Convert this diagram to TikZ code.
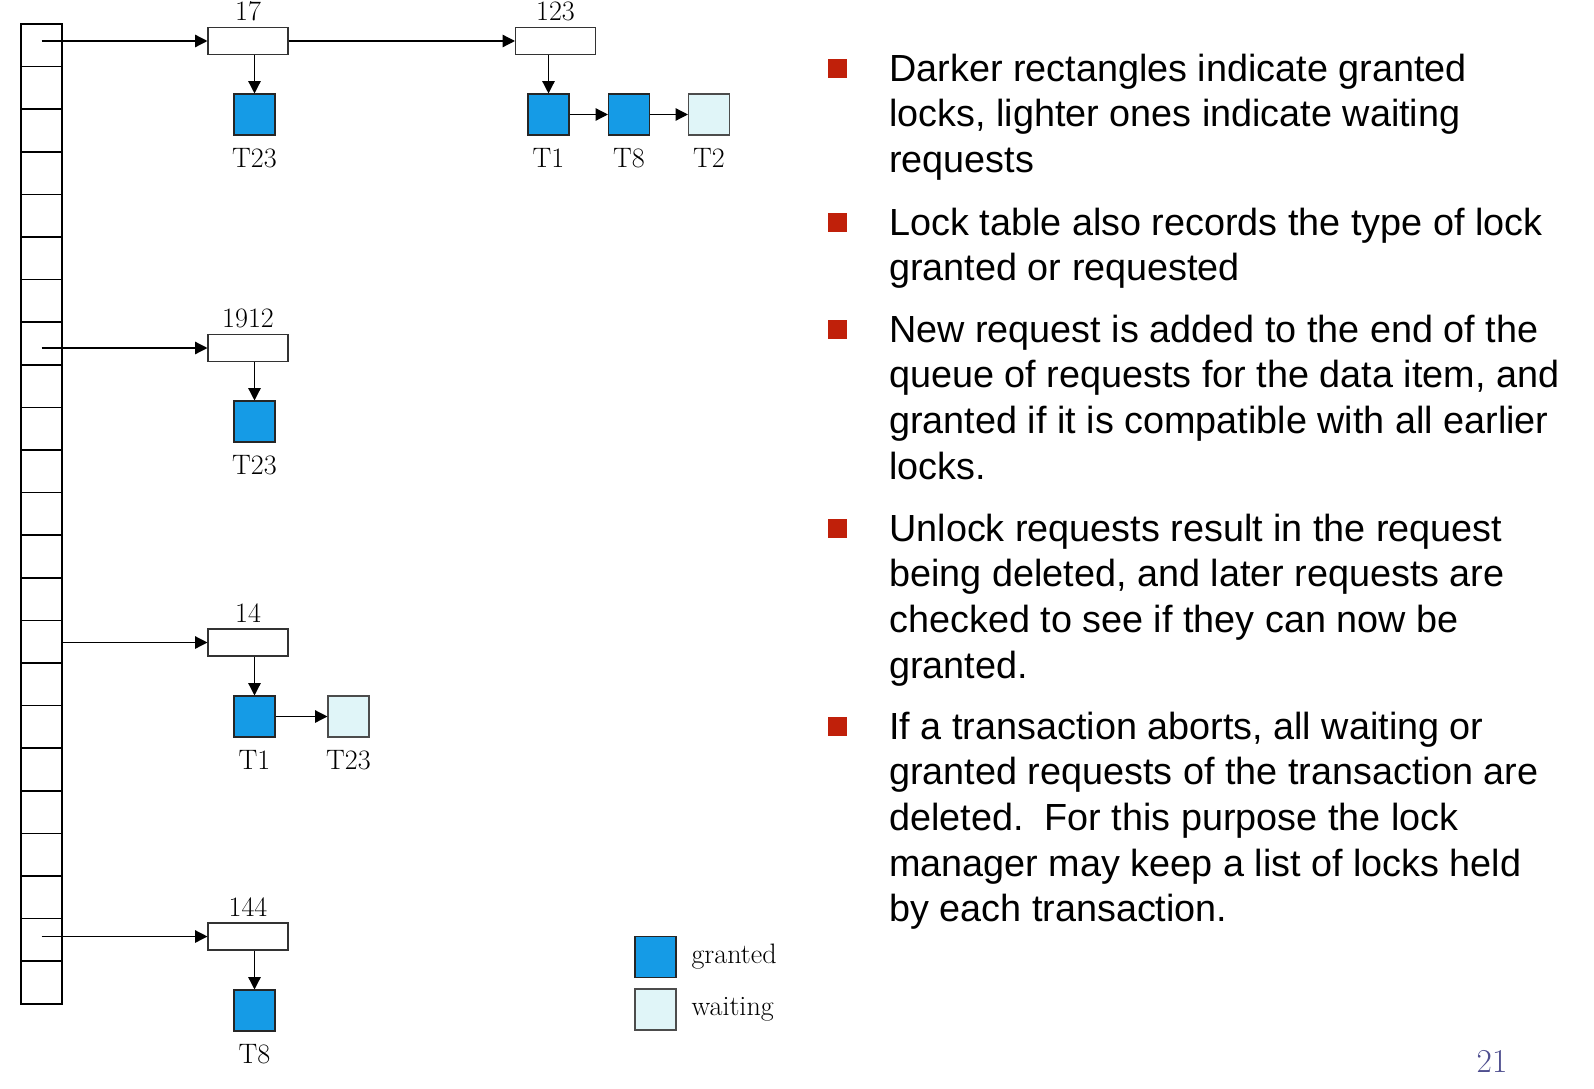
\documentclass[tikz,border=0pt]{standalone}
\usepackage{fontspec}
\newfontfamily\slidefont{Liberation Sans}
\usetikzlibrary{positioning,arrows.meta}
\definecolor{granted}{RGB}{21,155,230}
\definecolor{waiting}{RGB}{224,245,248}
\definecolor{bulletred}{RGB}{192,32,10}
\definecolor{pagenum}{RGB}{79,79,143}

\begin{document}
\begin{tikzpicture}[x=0.02cm, y=-0.02cm,
    cell/.style={draw, line width=0.9pt, minimum width=0.82cm, minimum height=0.852cm, inner sep=0},
    item/.style={draw=black!80, line width=0.6pt, minimum width=1.6cm, minimum height=0.54cm, inner sep=0},
    gsq/.style={draw=black!85, fill=granted, line width=0.6pt, minimum size=0.82cm, inner sep=0},
    wsq/.style={gsq, fill=waiting, draw=black!70},
    tx/.style={font=\fontsize{16}{19}\selectfont},
    ptr/.style={-{Triangle[length=7pt,width=7pt]}, line width=0.75pt},
    bullet/.style={fill=bulletred, minimum size=0.38cm, inner sep=0},
    para/.style={font=\slidefont\fontsize{21.5}{26}\selectfont, align=left, anchor=north west, inner sep=0}]
    \useasboundingbox (0,0) rectangle (1594,1088);
    \foreach \i in {0,...,22}
        \node[cell] (c\i) at (41.5,45.3+42.6*\i) {};

    \node[item] (k17) at (248,41) {};
    \node[item] (k123) at (555.5,41) {};
    \node[item] (k1912) at (248,348) {};
    \node[item] (k14) at (248,642.5) {};
    \node[item] (k144) at (248,936.5) {};
    \node[tx, above=0pt of k17] (n17) {17};
    \node[tx, above=0pt of k123] (n123) {123};
    \node[tx, above=0pt of k1912] (n1912) {1912};
    \node[tx, above=0pt of k14] (n14) {14};
    \node[tx, above=0pt of k144] (n144) {144};

    \node[gsq] (a23) at (254.5,114.5) {};
    \node[gsq] (b1) at (548.5,114.5) {};
    \node[gsq] (b8) at (629,114.5) {};
    \node[wsq] (b2) at (709,114.5) {};
    \node[gsq] (d23) at (254.5,421.5) {};
    \node[gsq] (e1) at (254.5,716.5) {};
    \node[wsq] (e23) at (348.5,716.5) {};
    \node[gsq] (f8) at (254.5,1010.5) {};
    \node[tx, below=4pt of a23] (la23) {T23};
    \node[tx, below=4pt of b1] (lb1) {T1};
    \node[tx, below=4pt of b8] (lb8) {T8};
    \node[tx, below=4pt of b2] (lb2) {T2};
    \node[tx, below=4pt of d23] (ld23) {T23};
    \node[tx, below=4pt of e1] (le1) {T1};
    \node[tx, below=4pt of e23] (le23) {T23};
    \node[tx, below=4pt of f8] (lf8) {T8};

    \draw[ptr] (c0.center |- k17.west) -- (k17.west);
    \draw[ptr] (k17.east) -- (k123.west);
    \draw[ptr] (c7.center |- k1912.west) -- (k1912.west);
    \draw[ptr] (c14.east |- k14.west) -- (k14.west);
    \draw[ptr] (c21.center |- k144.west) -- (k144.west);
    \draw[ptr] (k17.south -| a23.north) -- (a23.north);
    \draw[ptr] (k123.south -| b1.north) -- (b1.north);
    \draw[ptr] (b1.east) -- (b8.west);
    \draw[ptr] (b8.east) -- (b2.west);
    \draw[ptr] (k1912.south -| d23.north) -- (d23.north);
    \draw[ptr] (k14.south -| e1.north) -- (e1.north);
    \draw[ptr] (e1.east) -- (e23.west);
    \draw[ptr] (k144.south -| f8.north) -- (f8.north);

    \node[gsq] (kg) at (655.5,957) {};
    \node[wsq] (kw) at (655.5,1009.5) {};
    \node[tx, right=5pt of kg] (lg) {granted};
    \node[tx, right=5pt of kw] (lw) {waiting};

    \node[bullet] (m1) at (837.5,68.5) {};
    \node[bullet] (m2) at (837.5,222.5) {};
    \node[bullet] (m3) at (837.5,329.5) {};
    \node[bullet] (m4) at (837.5,528.5) {};
    \node[bullet] (m5) at (837.5,726.5) {};
    \node[para] (p1) at (889,53.5) {Darker rectangles indicate granted\\locks, lighter ones indicate waiting\\requests};
    \node[para] (p2) at (889,207.5) {Lock table also records the type of lock\\granted or requested};
    \node[para] (p3) at (889,314.5) {New request is added to the end of the\\queue of requests for the data item, and\\granted if it is compatible with all earlier\\locks.};
    \node[para] (p4) at (889,513.5) {Unlock requests result in the request\\being deleted, and later requests are\\checked to see if they can now be\\granted.};
    \node[para] (p5) at (889,711.5) {If a transaction aborts, all waiting or\\granted requests of the transaction are\\deleted.\ \ For this purpose the lock\\manager may keep a list of locks held\\by each transaction.};

    \node[font=\fontsize{19}{22}\selectfont, text=pagenum] (pg) at (1492,1061) {21};
\end{tikzpicture}
\end{document}
